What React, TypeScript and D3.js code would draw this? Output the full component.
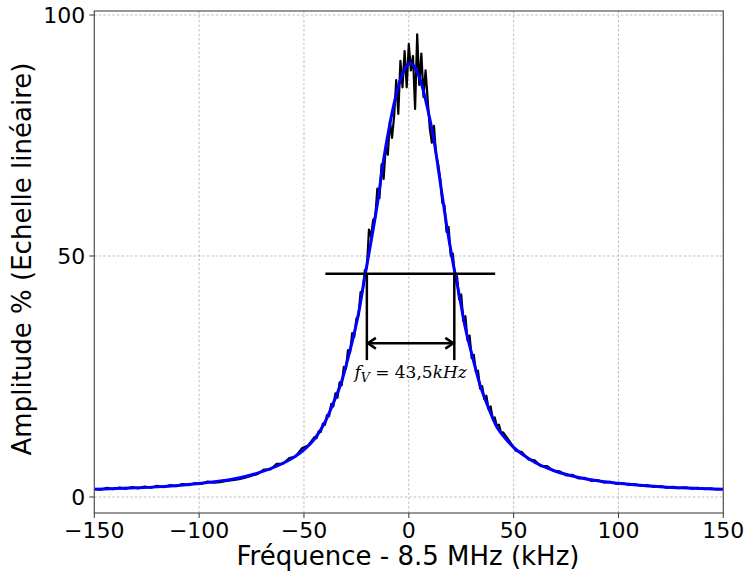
import React from "react";
import * as d3 from "d3";

// Fit (blue) curve: frequency offset (kHz) and amplitude (%)
const fitKHz = [-150, -140, -130, -120, -110, -100, -90, -80, -70, -60, -55, -50, -45, -40, -36, -32, -28, -24, -21, -18, -15, -12, -9, -6, -3, 0, 0.75, 3, 6, 9, 12, 15, 18, 21, 24, 27, 30, 34, 38, 42, 46, 50, 55, 60, 70, 80, 90, 100, 110, 120, 130, 140, 150];
const fitAmp = [1.6, 1.75, 1.9, 2.1, 2.4, 2.8, 3.3, 4.05, 5.25, 7.0, 8.2, 9.8, 12.0, 15.5, 19.5, 24, 30.5, 38, 45.7, 53, 60.8, 70, 77.5, 83.5, 87.8, 89.9, 90, 89, 85.8, 80.5, 74, 65.3, 56.5, 48.8, 42, 35, 29.7, 23.2, 18.5, 14.5, 12.2, 10.3, 8.6, 7.2, 5.35, 4.15, 3.35, 2.85, 2.45, 2.15, 1.9, 1.75, 1.6];

// Measured (black) spectrum
const tailLeftKHz = [-150, -147, -144, -141, -138, -135, -132, -129, -126, -123, -120, -117, -114, -111, -108, -105, -102, -99, -96, -93, -90, -87, -84, -81, -78, -75, -72, -69, -66, -63, -60, -57, -54, -51, -48];
const tailLeftAmp = [1.7, 1.5, 1.9, 1.6, 1.95, 1.7, 2.05, 1.8, 2.15, 1.95, 2.3, 2.05, 2.45, 2.25, 2.7, 2.45, 2.9, 2.7, 3.2, 3.0, 3.1, 3.35, 3.5, 3.7, 4.0, 4.4, 4.8, 5.7, 5.7, 6.9, 6.9, 8.1, 8.4, 10.1, 10.7];
const slopeLeftKHz = d3.range(-45, -15);
const slopeLeftAmp = [12.4, 12.2, 13.6, 13.5, 15.2, 15.0, 17.0, 16.8, 19.3, 18.8, 21.5, 20.6, 23.8, 23.2, 27.0, 26.6, 30.5, 30.0, 34.0, 33.2, 37.0, 37.6, 42.5, 42.6, 47.0, 47.5, 55.5, 54.0, 57.5, 58.0];
const peakKHz = d3.range(-15, 16);
const peakAmp = [
  64.0, 62.0, 69.0, 66.0, 72.5, 71.0, 78.0, 74.5, 79.0, 86.5,
  79.5, 90.5, 85.0, 92.5, 85.0, 94.0, 88.5, 91.5, 80.5, 96.0,
  85.5, 92.0, 83.0, 88.5, 82.5, 76.5, 73.5, 77.0, 71.0, 69.0,
  66.0,
];
const slopeRightKHz = d3.range(16, 46);
const slopeRightAmp = [61.0, 60.5, 55.0, 56.0, 50.0, 50.5, 45.5, 45.8, 41.0, 42.0, 36.5, 37.5, 32.5, 33.5, 28.8, 29.5, 26.0, 26.2, 22.5, 23.0, 20.3, 21.0, 18.3, 18.8, 16.4, 16.5, 14.7, 15.0, 13.3, 13.4];
const tailRightKHz = [48, 51, 54, 57, 60, 63, 66, 69, 72, 75, 78, 81, 84, 87, 90, 93, 96, 99, 102, 105, 108, 111, 114, 117, 120, 123, 126, 129, 132, 135, 138, 141, 144, 147, 150];
const tailRightAmp = [11.6, 9.6, 9.3, 7.8, 7.6, 6.4, 6.4, 5.4, 5.3, 4.5, 4.6, 3.85, 3.95, 3.35, 3.5, 3.0, 3.15, 2.75, 2.9, 2.5, 2.65, 2.3, 2.45, 2.1, 2.25, 1.95, 2.1, 1.85, 2.0, 1.75, 1.9, 1.65, 1.8, 1.55, 1.7];

const xTicks = [-150, -100, -50, 0, 50, 100, 150];
const yTicks = [0, 50, 100];

// Annotation values
const halfLevel = 46.3;
const halfSpan = [-39.8, 41.2];
const fwhmEdges = [-20.0, 21.7];
const markerBottom = 28.4;
const arrowLevel = 31.9;

const fmt = (v: number) => (v < 0 ? "\u2212" + Math.abs(v) : String(v));

export default function App() {
  const W = 748, H = 573;
  const left = 94.3, right = 723.3, top = 11, bottom = 513;
  const x = d3.scaleLinear().domain([-150, 150]).range([left, right]);
  const y = d3.scaleLinear().domain([-3.32, 100.83]).range([bottom, top]);

  const dataK = [...tailLeftKHz, ...slopeLeftKHz, ...peakKHz, ...slopeRightKHz, ...tailRightKHz];
  const dataA = [...tailLeftAmp, ...slopeLeftAmp, ...peakAmp, ...slopeRightAmp, ...tailRightAmp];
  const line = d3.line<[number, number]>().x((d) => x(d[0])).y((d) => y(d[1]));
  const dataPath = line(dataK.map((k, i) => [k, dataA[i]]) as [number, number][]) || "";
  const fitLine = d3.line<[number, number]>().x((d) => x(d[0])).y((d) => y(d[1])).curve(d3.curveMonotoneX);
  const fitPath = fitLine(fitKHz.map((k, i) => [k, fitAmp[i]]) as [number, number][]) || "";

  const font = "DejaVu Sans, sans-serif";
  const ax1 = x(fwhmEdges[0]), ax2 = x(fwhmEdges[1]), ay = y(arrowLevel);
  const ah = 9;

  return (
    <svg width={W} height={H} style={{ position: "absolute", left: 0, top: 0, background: "#fff" }}>
      <defs>
        <clipPath id="plot">
          <rect x={left} y={top} width={right - left} height={bottom - top} />
        </clipPath>
      </defs>
      <rect x={0} y={0} width={W} height={H} fill="#fff" />
      {/* grid */}
      {xTicks.map((t) => (
        <line key={"gx" + t} x1={x(t)} x2={x(t)} y1={top} y2={bottom} stroke="#b0b0b0" strokeWidth={0.8} strokeDasharray="2.5,2" />
      ))}
      {yTicks.map((t) => (
        <line key={"gy" + t} x1={left} x2={right} y1={y(t)} y2={y(t)} stroke="#b0b0b0" strokeWidth={0.8} strokeDasharray="2.5,2" />
      ))}
      <g clipPath="url(#plot)">
        <path d={dataPath} fill="none" stroke="#000" strokeWidth={2.2} strokeLinejoin="round" />
        <path d={fitPath} fill="none" stroke="#0000ff" strokeWidth={3} strokeLinejoin="round" />
      </g>
      {/* annotations */}
      <line x1={x(halfSpan[0])} x2={x(halfSpan[1])} y1={y(halfLevel)} y2={y(halfLevel)} stroke="#000" strokeWidth={2.5} />
      {fwhmEdges.map((k) => (
        <line key={"fe" + k} x1={x(k)} x2={x(k)} y1={y(halfLevel)} y2={y(markerBottom)} stroke="#000" strokeWidth={2.5} />
      ))}
      <line x1={ax1} x2={ax2} y1={ay} y2={ay} stroke="#000" strokeWidth={2.5} />
      <path d={`M${ax1 + ah},${ay - ah * 0.6} L${ax1 + 1},${ay} L${ax1 + ah},${ay + ah * 0.6}`} fill="none" stroke="#000" strokeWidth={2.5} />
      <path d={`M${ax2 - ah},${ay - ah * 0.6} L${ax2 - 1},${ay} L${ax2 - ah},${ay + ah * 0.6}`} fill="none" stroke="#000" strokeWidth={2.5} />
      <text x={(ax1 + ax2) / 2} y={378} textAnchor="middle" fontFamily="DejaVu Serif, serif" fontSize={17} fill="#000">
        <tspan fontStyle="italic">f</tspan>
        <tspan fontStyle="italic" fontSize={12.5} dy={4}>V</tspan>
        <tspan dy={-4}>{"\u00a0=\u00a043,5"}</tspan>
        <tspan fontStyle="italic">kHz</tspan>
      </text>
      {/* spines */}
      <rect x={left} y={top} width={right - left} height={bottom - top} fill="none" stroke="#555" strokeWidth={1.2} />
      {/* ticks */}
      {xTicks.map((t) => (
        <g key={"xt" + t}>
          <line x1={x(t)} x2={x(t)} y1={bottom} y2={bottom + 5} stroke="#333" strokeWidth={1} />
          <text x={x(t)} y={bottom + 25} textAnchor="middle" fontFamily={font} fontSize={22} fill="#000">{fmt(t)}</text>
        </g>
      ))}
      {yTicks.map((t) => (
        <g key={"yt" + t}>
          <line x1={left - 5} x2={left} y1={y(t)} y2={y(t)} stroke="#333" strokeWidth={1} />
          <text x={left - 9} y={y(t)} dy="0.36em" textAnchor="end" fontFamily={font} fontSize={22} fill="#000">{fmt(t)}</text>
        </g>
      ))}
      <text x={408} y={565} textAnchor="middle" fontFamily={font} fontSize={26} fill="#000">Fréquence - 8.5 MHz (kHz)</text>
      <text transform={`translate(31,259) rotate(-90)`} textAnchor="middle" fontFamily={font} fontSize={26} fill="#000">Amplitude % (Echelle linéaire)</text>
    </svg>
  );
}
